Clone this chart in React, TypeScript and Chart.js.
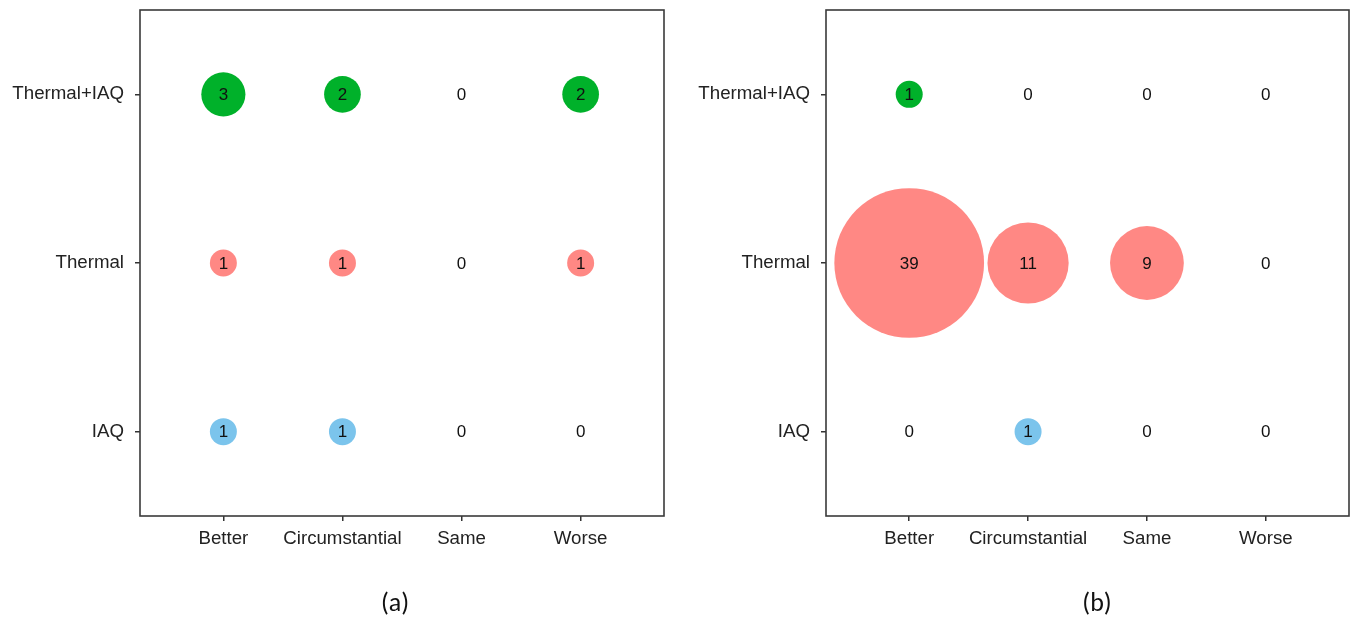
import React, { useEffect, useRef } from "react";
import { Chart, registerables } from "chart.js";

Chart.register(...registerables);

const categories = ["Better", "Circumstantial", "Same", "Worse"];
const rowLabels = ["IAQ", "Thermal", "Thermal+IAQ"];

// Panel (a)
const aThermalIAQ = [3, 2, 0, 2];
const aThermal = [1, 1, 0, 1];
const aIAQ = [1, 1, 0, 0];

// Panel (b)
const bThermalIAQ = [1, 0, 0, 0];
const bThermal = [39, 11, 9, 0];
const bIAQ = [0, 1, 0, 0];

const colorIAQ = "#7bc4ec";
const colorThermal = "#ff8884";
const colorThermalIAQ = "#00b12a";

const FONT = "'Liberation Sans', Arial, sans-serif";

function radiusFor(v: number) {
  return v > 0 ? 1.8 + 11.7 * Math.sqrt(v) : 0;
}

function makeDataset(values: number[], row: number, color: string) {
  return {
    data: values.map((v, i) => ({ x: i, y: row, r: radiusFor(v), v })),
    backgroundColor: color,
    borderWidth: 0,
    clip: false as any,
  };
}

const boxPlugin = {
  id: "boxAndLabels",
  afterDatasetsDraw(chart: any) {
    const ctx = chart.ctx;
    ctx.save();
    ctx.font = `17px ${FONT}`;
    ctx.fillStyle = "#111";
    ctx.textAlign = "center";
    ctx.textBaseline = "middle";
    chart.data.datasets.forEach((ds: any, di: number) => {
      const meta = chart.getDatasetMeta(di);
      meta.data.forEach((el: any, i: number) => {
        ctx.fillText(String(ds.data[i].v), el.x, el.y + 1);
      });
    });
    ctx.restore();
  },
  afterDraw(chart: any) {
    const { left, top, right, bottom } = chart.chartArea;
    const ctx = chart.ctx;
    ctx.save();
    ctx.strokeStyle = "#3a3a3a";
    ctx.lineWidth = 1.6;
    ctx.strokeRect(left, top, right - left, bottom - top);
    ctx.restore();
  },
};

function makeConfig(
  thermalIAQ: number[],
  thermal: number[],
  iaq: number[],
  yWidth: number,
  rightPad: number
): any {
  return {
    type: "bubble",
    data: {
      datasets: [
        makeDataset(iaq, 0, colorIAQ),
        makeDataset(thermal, 1, colorThermal),
        makeDataset(thermalIAQ, 2, colorThermalIAQ),
      ],
    },
    options: {
      responsive: false,
      animation: false,
      events: [],
      layout: {
        autoPadding: false,
        padding: { left: 0, top: 10, right: rightPad, bottom: 0 },
      },
      plugins: {
        legend: { display: false },
        tooltip: { enabled: false },
        title: { display: false },
      },
      scales: {
        x: {
          type: "linear",
          min: -0.7,
          max: 3.7,
          afterBuildTicks: (s: any) => {
            s.ticks = categories.map((_, i) => ({ value: i }));
          },
          afterFit: (s: any) => {
            s.height = 105;
            s.paddingLeft = 0;
            s.paddingRight = 0;
          },
          border: { display: false },
          grid: {
            display: true,
            drawOnChartArea: false,
            drawTicks: true,
            tickLength: 5,
            color: "#333",
            lineWidth: 1.5,
          },
          ticks: {
            autoSkip: false,
            maxRotation: 0,
            padding: 7,
            color: "#222",
            font: { size: 18.7, family: FONT },
            callback: (v: any) => categories[Math.round(Number(v))] ?? "",
          },
        },
        y: {
          type: "linear",
          min: -0.5,
          max: 2.5,
          afterBuildTicks: (s: any) => {
            s.ticks = rowLabels.map((_, i) => ({ value: i }));
          },
          afterFit: (s: any) => {
            s.width = yWidth;
            s.paddingTop = 0;
            s.paddingBottom = 0;
          },
          border: { display: false },
          grid: {
            display: true,
            drawOnChartArea: false,
            drawTicks: true,
            tickLength: 5,
            color: "#333",
            lineWidth: 1.5,
          },
          ticks: {
            autoSkip: false,
            padding: 11,
            color: "#222",
            font: { size: 18.7, family: FONT },
            callback: (v: any) => rowLabels[Math.round(Number(v))] ?? "",
          },
        },
      },
    },
    plugins: [boxPlugin],
  };
}

function Panel(props: {
  left: number;
  width: number;
  config: any;
  caption: string;
  captionX: number;
}) {
  const ref = useRef<HTMLCanvasElement>(null);
  useEffect(() => {
    if (!ref.current) return;
    const chart = new Chart(ref.current, props.config);
    return () => chart.destroy();
  }, []);
  return (
    <>
      <div
        style={{
          position: "absolute",
          left: props.left,
          top: 0,
          width: props.width,
          height: 621,
        }}
      >
        <canvas ref={ref} width={props.width} height={621} style={{ display: "block" }} />
      </div>
      <div
        style={{
          position: "absolute",
          left: props.captionX - 50,
          top: 587,
          width: 100,
          textAlign: "center",
          fontFamily: "Carlito, Lato, 'Open Sans', sans-serif",
          fontSize: 26,
          lineHeight: "30px",
          color: "#111",
        }}
      >
        {props.caption}
      </div>
    </>
  );
}

export default function App() {
  const cfgA = makeConfig(aThermalIAQ, aThermal, aIAQ, 140, 683 - 664);
  const cfgB = makeConfig(bThermalIAQ, bThermal, bIAQ, 143, 670 - 666);
  return (
    <div
      style={{
        position: "absolute",
        left: 0,
        top: 0,
        width: 1353,
        height: 621,
        background: "#fff",
        overflow: "hidden",
      }}
    >
      <Panel left={0} width={683} config={cfgA} caption="(a)" captionX={395} />
      <Panel left={683} width={670} config={cfgB} caption="(b)" captionX={1097} />
    </div>
  );
}
